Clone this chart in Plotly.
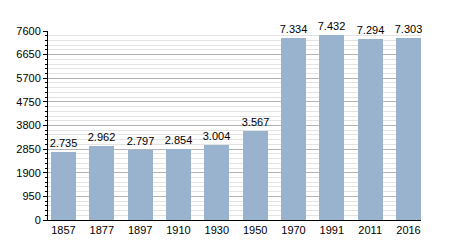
import plotly.graph_objects as go

years = ["1857", "1877", "1897", "1910", "1930", "1950", "1970", "1991", "2011", "2016"]
population = [2735, 2962, 2797, 2854, 3004, 3567, 7334, 7432, 7294, 7303]
value_labels = ["2.735", "2.962", "2.797", "2.854", "3.004", "3.567", "7.334", "7.432", "7.294", "7.303"]
y_ticks = [0, 950, 1900, 2850, 3800, 4750, 5700, 6650, 7600]

xpos = list(range(len(years)))

fig = go.Figure(go.Bar(
    x=xpos, y=population, width=0.652,
    marker=dict(color="#99b3cf", line=dict(width=0)),
    text=value_labels, textposition="outside", cliponaxis=False,
    constraintext="none",
    textfont=dict(family="Liberation Sans, Arial", size=11, color="#000000"),
    hoverinfo="skip",
))

fig.update_layout(
    width=450, height=250,
    margin=dict(l=48, r=29, t=31, b=30),
    paper_bgcolor="white", plot_bgcolor="white",
    showlegend=False,
    font=dict(family="Liberation Sans, Arial", size=11, color="#000000"),
    xaxis=dict(
        range=[-0.404, 9.326],
        tickvals=xpos, ticktext=years,
        showgrid=False, zeroline=False,
        showline=True, linecolor="#000000", linewidth=1,
        ticks="", ticklabelstandoff=0,
        fixedrange=True,
    ),
    yaxis=dict(
        range=[0, 7600],
        tickvals=y_ticks,
        showgrid=True, gridcolor="#b3b3b3", gridwidth=1,
        zeroline=False,
        showline=True, linecolor="#000000", linewidth=1,
        ticks="outside", ticklen=4, tickcolor="#000000", tickwidth=1,
        minor=dict(dtick=190, tick0=0, showgrid=True, gridcolor="#e3e3e3", gridwidth=1,
                   ticks="outside", ticklen=2, tickcolor="#000000", tickwidth=1),
        fixedrange=True,
    ),
    bargap=0,
)

fig.write_html("out.html")
